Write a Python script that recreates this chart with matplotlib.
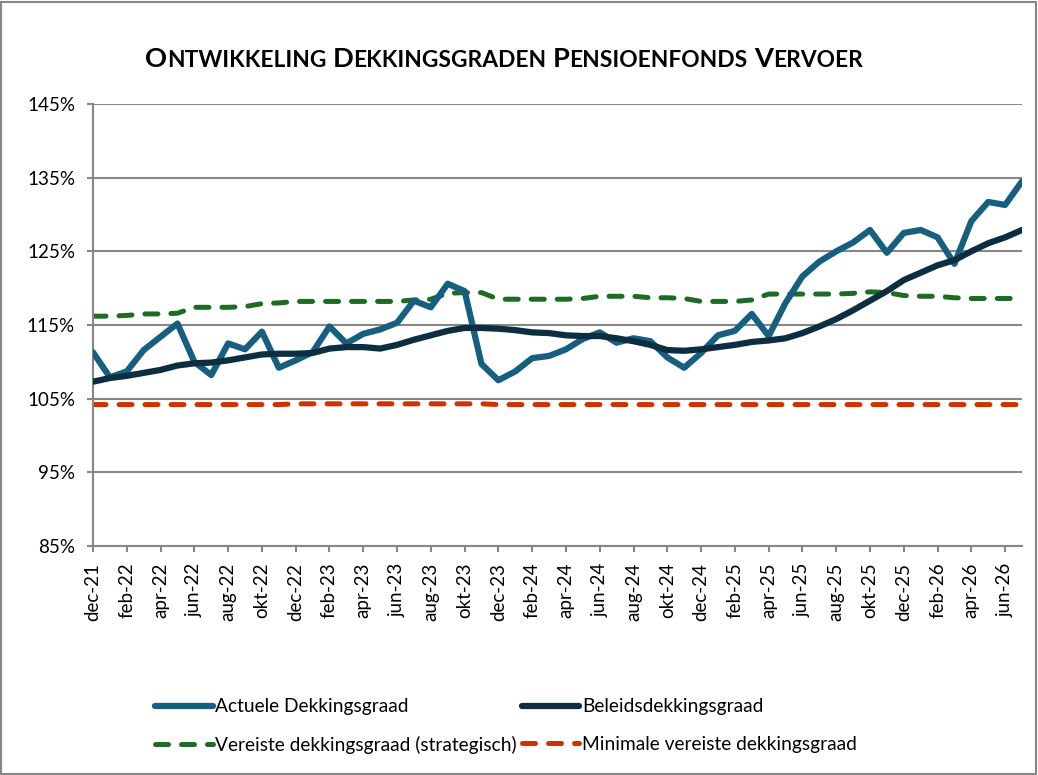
import matplotlib
matplotlib.use('Agg')
import matplotlib.pyplot as plt
from matplotlib.lines import Line2D
from matplotlib.patches import Rectangle
from matplotlib.ticker import FuncFormatter

plt.rcParams['font.family'] = ['Lato', 'DejaVu Sans']

# Data (monthly, dec-21 .. jul-26)
months = ['dec-21', 'jan-22', 'feb-22', 'mrt-22', 'apr-22', 'mei-22', 'jun-22', 'jul-22',
          'aug-22', 'sep-22', 'okt-22', 'nov-22', 'dec-22', 'jan-23', 'feb-23', 'mrt-23',
          'apr-23', 'mei-23', 'jun-23', 'jul-23', 'aug-23', 'sep-23', 'okt-23', 'nov-23',
          'dec-23', 'jan-24', 'feb-24', 'mrt-24', 'apr-24', 'mei-24', 'jun-24', 'jul-24',
          'aug-24', 'sep-24', 'okt-24', 'nov-24', 'dec-24', 'jan-25', 'feb-25', 'mrt-25',
          'apr-25', 'mei-25', 'jun-25', 'jul-25', 'aug-25', 'sep-25', 'okt-25', 'nov-25',
          'dec-25', 'jan-26', 'feb-26', 'mrt-26', 'apr-26', 'mei-26', 'jun-26', 'jul-26']

actuele = [111.3, 107.9, 108.7, 111.6, 113.4, 115.2, 110.0, 108.2, 112.5, 111.7, 114.1, 109.2,
           110.2, 111.3, 114.8, 112.5, 113.8, 114.4, 115.3, 118.3, 117.4, 120.6, 119.6, 109.7,
           107.5, 108.7, 110.5, 110.8, 111.7, 113.1, 114.0, 112.6, 113.2, 112.8, 110.6, 109.2,
           111.2, 113.6, 114.2, 116.5, 113.5, 118.0, 121.6, 123.6, 125.0, 126.2, 127.9, 124.8,
           127.5, 127.9, 126.9, 123.3, 129.1, 131.7, 131.3, 134.5]

beleids = [107.3, 107.8, 108.1, 108.5, 108.9, 109.5, 109.8, 109.9, 110.2, 110.6, 111.0, 111.1,
           111.1, 111.2, 111.8, 112.0, 112.0, 111.8, 112.3, 113.0, 113.6, 114.2, 114.6, 114.6,
           114.5, 114.3, 114.0, 113.9, 113.6, 113.5, 113.5, 113.2, 112.8, 112.3, 111.6, 111.5,
           111.7, 112.0, 112.3, 112.7, 112.9, 113.2, 113.9, 114.8, 115.8, 117.0, 118.3, 119.6,
           121.1, 122.1, 123.1, 123.8, 125.0, 126.1, 126.9, 127.9]

vereiste = [116.2, 116.2, 116.3, 116.5, 116.5, 116.6, 117.4, 117.4, 117.4, 117.5, 117.9, 118.0,
            118.2, 118.2, 118.2, 118.2, 118.2, 118.2, 118.2, 118.4, 118.5, 119.3, 119.4, 119.4,
            118.5, 118.5, 118.5, 118.5, 118.5, 118.6, 118.9, 118.9, 118.9, 118.7, 118.7, 118.6,
            118.2, 118.2, 118.2, 118.4, 119.2, 119.2, 119.2, 119.2, 119.2, 119.3, 119.5, 119.4,
            119.0, 118.9, 118.9, 118.7, 118.6, 118.6, 118.6, 118.6]

minimale = [104.2] * 12 + [104.3] * 12 + [104.2] * 32

labels = ['Actuele Dekkingsgraad', 'Beleidsdekkingsgraad',
          'Vereiste dekkingsgraad (strategisch)', 'Minimale vereiste dekkingsgraad']
colors = ['#185F7F', '#0D2E40', '#1D6B24', '#CC3300']

title = 'ONTWIKKELING DEKKINGSGRADEN PENSIOENFONDS VERVOER'

W, H = 1038, 775
fig = plt.figure(figsize=(W / 100, H / 100), dpi=100)
ax = fig.add_axes([93 / W, 1 - 546 / H, (1022 - 93) / W, (546 - 104) / H])

x = list(range(len(months)))
grey = '#868686'
lw = 4.5
dash = (2.6, 2.6)

ax.plot(x, vereiste, color=colors[2], lw=3.6, dashes=dash, dash_capstyle='round', zorder=2)
ax.plot(x, minimale, color=colors[3], lw=3.6, dashes=dash, dash_capstyle='round', zorder=2)
ax.plot(x, actuele, color=colors[0], lw=lw, solid_capstyle='round', solid_joinstyle='round', zorder=3)
ax.plot(x, beleids, color=colors[1], lw=lw, solid_capstyle='round', solid_joinstyle='round', zorder=4)

ax.set_xlim(0, len(months) - 1)
ax.set_ylim(85, 145)
ax.set_yticks(range(85, 146, 10))
ax.yaxis.set_major_formatter(FuncFormatter(lambda v, p: f'{v:.0f}%'))
ax.set_xticks(x[::2])
ax.set_xticklabels(months[::2], rotation=90, va='top', ha='center')
ax.grid(axis='y', color=grey, lw=1.5)
ax.set_axisbelow(True)

for s in ['top', 'right']:
    ax.spines[s].set_visible(False)
for s in ['left', 'bottom']:
    ax.spines[s].set_color(grey)
    ax.spines[s].set_linewidth(1.5)

ax.tick_params(axis='y', length=4, width=1.5, color=grey, pad=9, labelsize=13.5)
ax.tick_params(axis='x', length=4, width=1.5, color=grey, pad=8, labelsize=13.5)
ax.tick_params(axis='both', labelcolor='black')

# Legend (two columns, Excel-like layout)
handles = [
    Line2D([], [], color=colors[0], lw=lw, solid_capstyle='round'),
    Line2D([], [], color=colors[2], lw=3.6, dashes=dash, dash_capstyle='round'),
    Line2D([], [], color=colors[1], lw=lw, solid_capstyle='round'),
    Line2D([], [], color=colors[3], lw=3.6, dashes=dash, dash_capstyle='round'),
]
leg_labels = [labels[0], labels[2], labels[1], labels[3]]
fig.legend(handles, leg_labels, loc='center left', bbox_to_anchor=(155 / W, 1 - 726 / H),
           ncol=2, frameon=False, fontsize=13.8, handlelength=3.0, handletextpad=0.15,
           columnspacing=0.25, labelspacing=1.05, borderpad=0, borderaxespad=0)

# Title in small caps, built from pieces
renderer = fig.canvas.get_renderer()
big, small = 19.6, 16.4
pieces = []
for word in title.split(' '):
    pieces.append((word[0], big))
    pieces.append((word[1:], small))
space = 6
texts = []
total = 0
for i, (s, size) in enumerate(pieces):
    t = fig.text(0, 1 - 66.7 / H, s, fontsize=size, fontweight='bold', va='baseline', ha='left')
    w = t.get_window_extent(renderer).width
    texts.append((t, w))
    total += w
    if i % 2 == 1 and i < len(pieces) - 1:
        total += space
xpos = 504 - total / 2
for i, (t, w) in enumerate(texts):
    t.set_x(xpos / W)
    xpos += w
    if i % 2 == 1:
        xpos += space

fig.add_artist(Rectangle((1 / W, 1 / H), 1 - 3 / W, 1 - 3 / H, transform=fig.transFigure,
                         fill=False, edgecolor=grey, lw=1.5))

fig.savefig('out.png', dpi=100)
